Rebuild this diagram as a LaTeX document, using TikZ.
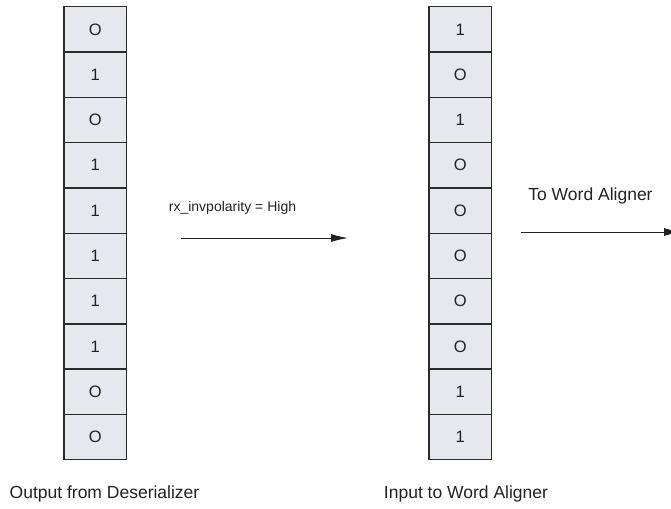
\documentclass[tikz,border=0pt]{standalone}
\usepackage{fontspec}
\setmainfont{Liberation Sans}
\usetikzlibrary{arrows.meta,positioning}
\definecolor{cellfill}{HTML}{E6E8EE}
\definecolor{cellline}{HTML}{2B2B2B}
\definecolor{txtgray}{HTML}{222222}
\tikzset{
  bitcell/.style={draw=cellline, fill=cellfill, line width=1.4pt, minimum width=62.4pt,
    minimum height=45.3pt, inner sep=0pt, anchor=north west, text=txtgray,
    font=\fontsize{16.5}{18}\selectfont},
  lbl/.style={font=\fontsize{17.5}{20}\selectfont, text=txtgray, inner sep=0pt},
  flow/.style={draw=txtgray, line width=0.9pt, -{Latex[length=17pt,width=8pt]}}
}
\begin{document}
\begin{tikzpicture}[x=1pt,y=-1pt]
  \useasboundingbox (0,0) rectangle (671,508);
  \clip (0,0) rectangle (671,508);
  % bits leaving the deserializer
  \foreach \b [count=\i from 0] in {O,1,O,1,1,1,1,1,O,O}
    \node[bitcell] (out\i) at (63.3,{6+45.3*\i}) {\b};
  % bits after polarity inversion
  \foreach \b [count=\i from 0] in {1,O,1,O,O,O,O,O,1,1}
    \node[bitcell] (in\i) at (428.3,{6+45.3*\i}) {\b};

  % inversion arrow
  \coordinate (invfrom) at (181,238);
  \coordinate (invto) at (348,238);
  \draw[flow] (invfrom) -- (invto);
  \node[lbl, font=\fontsize{14}{16}\selectfont] (invlbl) at (232.5,208) {rx\_invpolarity = High};

  % on to the word aligner
  \coordinate (wafrom) at (521,232);
  \coordinate (wato) at (681,232);
  \draw[flow] (wafrom) -- (wato);
  \node[lbl] (walbl) at (590.5,196) {To Word Aligner};

  % captions
  \node[lbl] (outcap) at (104.5,494) {Output from Deserializer};
  \node[lbl] (incap) at (466,494) {Input to Word Aligner};
\end{tikzpicture}
\end{document}
